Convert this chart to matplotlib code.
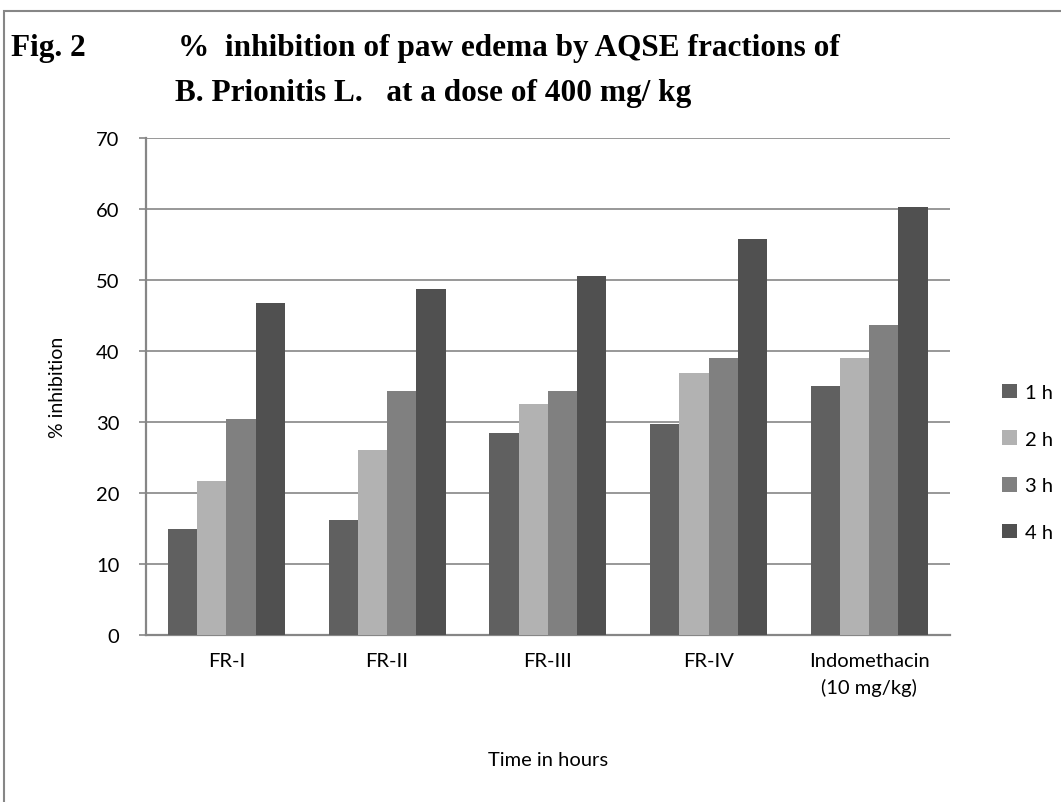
import matplotlib
matplotlib.use("Agg")
import matplotlib.pyplot as plt
from matplotlib.patches import Rectangle
import numpy as np

# data
categories = ["FR-I", "FR-II", "FR-III", "FR-IV", "Indomethacin\n(10 mg/kg)"]
series_names = ["1 h", "2 h", "3 h", "4 h"]
h1 = [14.9, 16.2, 28.5, 29.7, 35.1]
h2 = [21.7, 26.1, 32.5, 36.9, 39.0]
h3 = [30.4, 34.4, 34.4, 39.0, 43.7]
h4 = [46.8, 48.7, 50.6, 55.8, 60.3]
colors = ["#606060", "#b2b2b2", "#808080", "#505050"]
yticks = [0, 10, 20, 30, 40, 50, 60, 70]

sans = ["Lato", "DejaVu Sans"]
serif = ["Liberation Serif", "DejaVu Serif"]

fig = plt.figure(figsize=(10.61, 8.03), dpi=100)
ax = fig.add_axes([0.1376, 0.208, 0.7574, 0.619])

x = np.arange(len(categories))
bw = 0.182
for i, vals in enumerate([h1, h2, h3, h4]):
    ax.bar(x + (i - 1.5) * bw, vals, bw, color=colors[i], label=series_names[i], zorder=3)

ax.set_xlim(-0.5, len(categories) - 0.5)
ax.set_ylim(0, 70)
ax.set_yticks(yticks)
ax.set_yticklabels([str(v) for v in yticks], family=sans, fontsize=14.5)
ax.set_xticks(x)
ax.set_xticklabels(categories, family=sans, fontsize=14.5, linespacing=1.6)
ax.tick_params(axis="x", length=0, pad=12)
ax.tick_params(axis="y", length=5, width=1.2, color="#868686", pad=14)
ax.grid(axis="y", color="#868686", linewidth=1.2, zorder=0)
for s in ["top", "right"]:
    ax.spines[s].set_visible(False)
for s in ["left", "bottom"]:
    ax.spines[s].set_color("#868686")
    ax.spines[s].set_linewidth(1.6)

ax.set_ylabel("% inhibition", family=sans, fontsize=14, labelpad=22)
ax.set_xlabel("Time in hours", family=sans, fontsize=14.5, labelpad=40)

leg = fig.legend(loc="center left", bbox_to_anchor=(0.927, 0.423), frameon=False,
                 prop={"family": sans, "size": 14.5}, handlelength=0.75, handleheight=0.75,
                 handletextpad=0.4, labelspacing=1.45)

# title in the style of the original figure
fig.text(0.01, 0.94, "Fig. 2", family=serif, weight="bold", fontsize=22.5, va="center")
fig.text(0.168, 0.94, "%  inhibition of paw edema by AQSE fractions of", family=serif,
         weight="bold", fontsize=22.5, va="center")
fig.text(0.165, 0.884, "B. Prionitis L.   at a dose of 400 mg/ kg", family=serif,
         weight="bold", fontsize=22.5, va="center")

# outer frame
fig.patches.append(Rectangle((0.004, -0.02), 1.2, 1.005, transform=fig.transFigure,
                             fill=False, edgecolor="#868686", linewidth=1.5))

fig.savefig("out.png", dpi=100)
